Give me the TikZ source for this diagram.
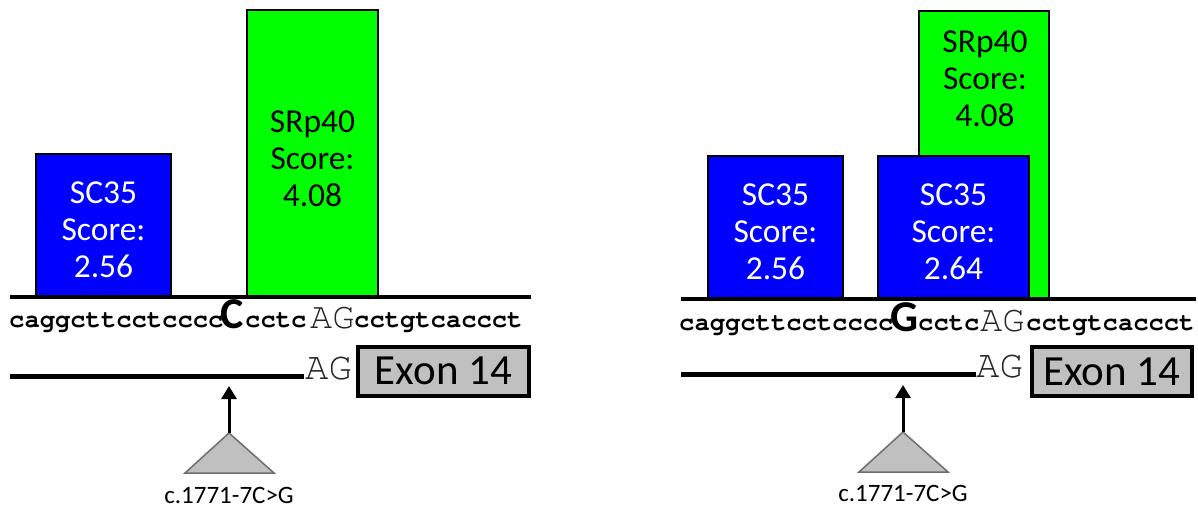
\documentclass[tikz,border=0pt]{standalone}
\usepackage{fontspec}
\usetikzlibrary{arrows.meta}
\newfontfamily\calfont{Carlito}
\newfontfamily\monofont{TeX Gyre Cursor}
\definecolor{srblue}{RGB}{0,0,255}
\definecolor{srgreen}{RGB}{0,255,0}
\definecolor{exgray}{RGB}{192,192,192}
\definecolor{triedge}{RGB}{110,110,110}
\tikzset{
 scbox/.style={draw=black, line width=2pt, fill=srblue, inner sep=0},
 srbox/.style={draw=black, line width=2pt, fill=srgreen, inner sep=0},
 boxtext/.style={align=center, font=\calfont\fontsize{33.5}{37}\selectfont, inner sep=0},
 seq/.style={anchor=base west, inner sep=0, font=\monofont\bfseries\fontsize{25.5}{25}\selectfont},
 bigbase/.style={anchor=base west, inner sep=0, font=\calfont\bfseries\fontsize{44}{44}\selectfont},
 agtext/.style={anchor=base west, inner sep=0, text=black!85},
 exon/.style={draw=black, line width=4pt, fill=exgray, inner sep=0, font=\calfont\fontsize{43}{43}\selectfont},
 dnaline/.style={line width=4pt},
 intron/.style={line width=5pt},
 mutarrow/.style={line width=3pt, -{Triangle[length=13pt,width=15pt]}},
 tri/.style={fill=exgray, draw=triedge, line width=1.5pt},
 mutlabel/.style={font=\calfont\fontsize{25}{25}\selectfont, inner sep=0},
}
\begin{document}
\begin{tikzpicture}[x=1pt,y=-1pt]
\useasboundingbox (0,0) rectangle (1198,508);
% ---------------- left panel ----------------
\node[srbox, minimum width=131pt, minimum height=286pt] (srL) at (312.5,153) {};
\node[boxtext] (srLt) at (312.5,159) {SRp40\\Score:\\4.08};
\node[scbox, minimum width=135pt, minimum height=142pt] (scL) at (103.5,225) {};
\node[boxtext, text=white] (scLt) at (103.5,230) {SC35\\Score:\\2.56};
\coordinate (baseLa) at (10,297);
\coordinate (baseLb) at (531,297);
\draw[dnaline] (baseLa) -- (baseLb);
\node[seq] (s1L) at (9,327) {caggcttcctcccc};
\node[bigbase] (mL) at (220,328) {C};
\node[seq] (s2L) at (245,327) {cctc};
\node[agtext, font=\monofont\fontsize{37}{37}\selectfont] (agL) at (310,328) {AG};
\node[seq] (s3L) at (354,327) {cctgtcaccct};
\coordinate (intLa) at (10,376);
\coordinate (intLb) at (304,376);
\draw[intron] (intLa) -- (intLb);
\node[agtext, font=\monofont\fontsize{39}{39}\selectfont] (ag2L) at (305,379) {AG};
\node[exon, minimum width=171pt, minimum height=49pt] (exL) at (443.5,371) {Exon 14};
\coordinate (apexL) at (229,433);
\coordinate (tipL) at (229,386);
\draw[tri] (apexL) -- (274,473) -- (185,473) -- cycle;
\draw[mutarrow] (apexL) -- (tipL);
\node[mutlabel] (labL) at (229,495) {c.1771-7C>G};
% ---------------- right panel ----------------
\node[srbox, minimum width=130pt, minimum height=287pt] (srR) at (984,154.5) {};
\node[boxtext] (srRt) at (985,79) {SRp40\\Score:\\4.08};
\node[scbox, minimum width=135pt, minimum height=142pt] (scR1) at (775.5,227) {};
\node[boxtext, text=white] (scR1t) at (775.5,232) {SC35\\Score:\\2.56};
\node[scbox, minimum width=151pt, minimum height=142pt] (scR2) at (953.5,227) {};
\node[boxtext, text=white] (scR2t) at (953.5,232) {SC35\\Score:\\2.64};
\coordinate (baseRa) at (681,299);
\coordinate (baseRb) at (1196,299);
\draw[dnaline] (baseRa) -- (baseRb);
\node[seq] (s1R) at (679,330) {caggcttcctcccc};
\node[bigbase] (mR) at (890,331) {G};
\node[seq] (s2R) at (918,330) {cctc};
\node[agtext, font=\monofont\fontsize{37}{37}\selectfont] (agR) at (980,331) {AG};
\node[seq] (s3R) at (1026,330) {cctgtcaccct};
\coordinate (intRa) at (681,374);
\coordinate (intRb) at (976,374);
\draw[intron] (intRa) -- (intRb);
\node[agtext, font=\monofont\fontsize{39}{39}\selectfont] (ag2R) at (976,377) {AG};
\node[exon, minimum width=160pt, minimum height=49pt] (exR) at (1112,371.5) {Exon 14};
\coordinate (apexR) at (903,432);
\coordinate (tipR) at (903,385);
\draw[tri] (apexR) -- (948,472) -- (859,472) -- cycle;
\draw[mutarrow] (apexR) -- (tipR);
\node[mutlabel] (labR) at (903,493) {c.1771-7C>G};
\end{tikzpicture}
\end{document}
